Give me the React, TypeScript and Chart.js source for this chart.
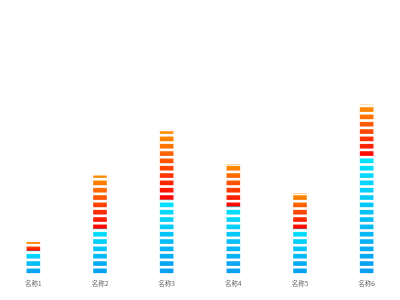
import React, { useEffect, useRef } from "react";
import { Chart, registerables } from "chart.js";

Chart.register(...registerables);

const categories = ["名称1", "名称2", "名称3", "名称4", "名称5", "名称6"];
const lowerValues = [10, 20, 33, 30, 20, 52];
const upperValues = [4, 24, 31, 19, 16, 24];
const yMin = 0;
const yMax = 100;

const SEG_PERIOD = 22 / 3;
const SEG_HEIGHT = 14 / 3;

const gapPlugin = {
  id: "segmentGaps",
  afterDatasetsDraw(chart: any) {
    const yScale = chart.scales.y;
    const base0 = yScale.getPixelForValue(0);
    const ctx = chart.ctx;
    ctx.save();
    ctx.fillStyle = "#ffffff";
    chart.data.datasets.forEach((_: any, di: number) => {
      const meta = chart.getDatasetMeta(di);
      meta.data.forEach((el: any) => {
        const top = Math.min(el.y, el.base);
        const bottom = Math.max(el.y, el.base);
        const half = el.width / 2 + 1;
        for (let k = 0; k < 200; k++) {
          const gBottom = base0 - k * SEG_PERIOD - SEG_HEIGHT;
          const gTop = base0 - (k + 1) * SEG_PERIOD;
          if (gBottom < top) break;
          const a = Math.max(gTop, top);
          const b = Math.min(gBottom, bottom);
          if (b > a) ctx.fillRect(el.x - half, a, half * 2, b - a);
        }
      });
    });
    ctx.restore();
  },
};

function makeGradient(seriesIdx: number, fromColor: string, toColor: string) {
  return (c: any) => {
    const chart = c.chart;
    const y = chart.scales && chart.scales.y;
    const i = c.dataIndex;
    if (!y || i == null || !chart.chartArea) return fromColor;
    const base = seriesIdx === 0 ? 0 : lowerValues[i];
    const top = base + (seriesIdx === 0 ? lowerValues[i] : upperValues[i]);
    const y0 = y.getPixelForValue(base);
    const y1 = y.getPixelForValue(top);
    if (!isFinite(y0) || !isFinite(y1) || y0 === y1) return fromColor;
    const g = chart.ctx.createLinearGradient(0, y0, 0, y1);
    g.addColorStop(0, fromColor);
    g.addColorStop(1, toColor);
    return g;
  };
}

export default function App() {
  const ref = useRef<HTMLCanvasElement>(null);
  useEffect(() => {
    if (!ref.current) return;
    const chart = new Chart(ref.current, {
      type: "bar",
      data: {
        labels: categories,
        datasets: [
          {
            label: "下",
            data: lowerValues,
            backgroundColor: makeGradient(0, "#0a9ef0", "#00e4ff"),
            barThickness: 13,
            borderWidth: 0,
          },
          {
            label: "上",
            data: upperValues,
            backgroundColor: makeGradient(1, "#ff0000", "#ff9200"),
            barThickness: 13,
            borderWidth: 0,
          },
        ],
      },
      options: {
        responsive: false,
        animation: false,
        layout: { padding: { top: 52, bottom: 7, left: 0, right: 0 } },
        plugins: { legend: { display: false }, tooltip: { enabled: false } },
        scales: {
          x: {
            stacked: true,
            grid: { display: false, drawTicks: false },
            border: { display: false },
            ticks: {
              padding: 6,
              color: "#666",
              font: { family: "'Noto Sans CJK SC', 'Noto Sans', sans-serif", size: 6.5 },
            },
          },
          y: {
            stacked: true,
            display: false,
            min: yMin,
            max: yMax,
          },
        },
      },
      plugins: [gapPlugin],
    });
    return () => chart.destroy();
  }, []);
  return (
    <div style={{ position: "fixed", left: 0, top: 0, width: 400, height: 300, background: "#fff" }}>
      <canvas ref={ref} width={400} height={300} style={{ display: "block" }} />
    </div>
  );
}
